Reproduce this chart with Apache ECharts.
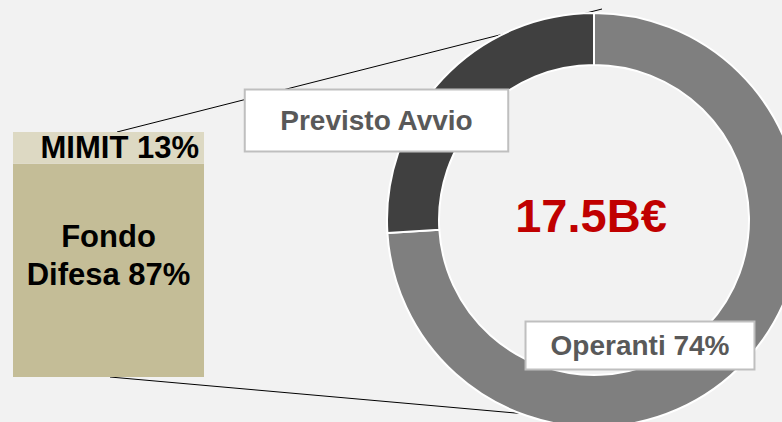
<!DOCTYPE html>
<html>
<head>
<meta charset="utf-8">
<script src="https://cdn.jsdelivr.net/npm/echarts@6/dist/echarts.min.js"></script>
<style>
html,body{margin:0;padding:0;background:#f2f2f2;}
#c{width:782px;height:422px;}
</style>
</head>
<body>
<div id="c"></div>
<script>
// ---- data ----
const categories = ['Finanziamento'];
const fundingNames = ['Fondo Difesa', 'MIMIT'];
const fundingValues = [87, 13];
const statusNames = ['Operanti', 'Previsto Avvio'];
const statusValues = [74, 26];
const statusShowPct = [true, false];
const totalLabel = '17.5B€';

const FONT = "'Liberation Sans', Arial, sans-serif";
const chart = echarts.init(document.getElementById('c'), null, {renderer: 'svg'});

const labelBoxes = [
  {x: 640, y: 345.5, padding: [9, 24]},
  {x: 376.5, y: 120.5, padding: [16, 34]}
];

const option = {
  backgroundColor: '#f2f2f2',
  animation: false,
  grid: {left: 13, top: 132, width: 191, height: 245},
  xAxis: {type: 'category', data: categories, show: false},
  yAxis: {type: 'value', min: 0, max: 100, show: false},
  graphic: [
    {type: 'line', z: -1, shape: {x1: 117, y1: 132, x2: 602, y2: 9}, style: {stroke: '#000', lineWidth: 1}},
    {type: 'line', z: -1, shape: {x1: 110, y1: 377, x2: 594, y2: 420}, style: {stroke: '#000', lineWidth: 1}},
    {type: 'text', z: 10, x: 591, y: 215, style: {text: totalLabel, fill: '#c00000', font: 'bold 47px ' + FONT, textAlign: 'center', textVerticalAlign: 'middle'}}
  ],
  series: [
    {
      type: 'bar', name: fundingNames[0], stack: 'f', barWidth: '100%', silent: true,
      itemStyle: {color: '#c4bd97'},
      data: [fundingValues[0]],
      label: {
        show: true, position: 'insideTop', distance: 54,
        formatter: 'Fondo\nDifesa ' + fundingValues[0] + '%',
        color: '#000', fontFamily: FONT, fontWeight: 'bold', fontSize: 31, lineHeight: 38, align: 'center'
      }
    },
    {
      type: 'bar', name: fundingNames[1], stack: 'f', barWidth: '100%', silent: true,
      itemStyle: {color: '#ddd9c3'},
      data: [fundingValues[1]],
      label: {
        show: true, position: 'insideRight', distance: 5,
        formatter: fundingNames[1] + ' ' + fundingValues[1] + '%',
        color: '#000', fontFamily: FONT, fontWeight: 'bold', fontSize: 31
      }
    },
    {
      type: 'pie', center: [594, 220], radius: [155, 207], startAngle: 90, clockwise: true,
      silent: true, z: 2,
      itemStyle: {borderColor: '#ffffff', borderWidth: 2},
      labelLine: {show: false},
      data: statusNames.map((n, i) => ({
        name: n, value: statusValues[i],
        itemStyle: {color: i === 0 ? '#7f7f7f' : '#404040'},
        label: {
          show: true, position: 'inside',
          formatter: statusShowPct[i] ? n + ' ' + statusValues[i] + '%' : n,
          color: '#595959', fontFamily: FONT, fontWeight: 'bold', fontSize: 28, lineHeight: 28,
          backgroundColor: '#ffffff', borderColor: '#bfbfbf', borderWidth: 2,
          padding: labelBoxes[i].padding
        }
      })),
      labelLayout: function (p) {
        const b = labelBoxes[p.dataIndex];
        return {x: b.x, y: b.y, align: 'center', verticalAlign: 'middle'};
      }
    }
  ]
};
chart.setOption(option);
</script>
</body>
</html>
